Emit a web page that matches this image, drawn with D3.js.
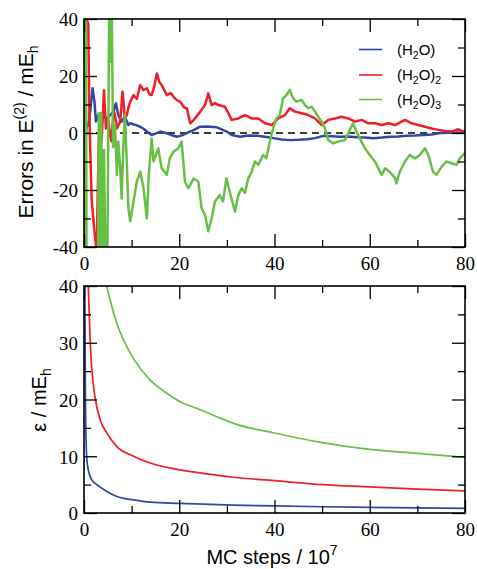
<!DOCTYPE html>
<html><head><meta charset="utf-8">
<script src="https://cdn.jsdelivr.net/npm/d3@7"></script>
<style>body{margin:0;background:#fff} .tick text{font-family:"Liberation Serif","Times New Roman",Times,serif !important;}</style>
</head><body>
<svg id="chart" width="477" height="569"></svg>
<script>
// ---------- data ----------
const xTicks = [0, 20, 40, 60, 80];
const errTicks = [-40, -20, 0, 20, 40];
const epsTicks = [0, 10, 20, 30, 40];
const seriesNames = ["(H2O)", "(H2O)2", "(H2O)3"];

const errH2O = [[0.2,-6],[0.5,2],[0.9,2.8],[1.3,7.5],[1.8,15.7],[2.2,11],[2.5,4],[3.0,6.3],[3.5,2.8],[4.1,6.3],[4.8,5],[5.5,6.3],[6.2,7.5],[6.7,10.4],[7.2,6.3],[7.9,4],[8.6,5.7],[9.3,2.8],[9.7,3.4],[10.5,3],[11.8,2.2],[12.5,1.5],[13.2,0.5],[14.2,-0.7],[15,-0.2],[16,0.5],[16.7,0.2],[17.4,-0.1],[18.5,-0.8],[19.5,-1.3],[20.2,-1],[20.9,-0.6],[22,0.3],[23,1],[24.4,2.2],[25.8,2.3],[26.5,2.2],[27.9,2],[29,1.2],[30,0.5],[31,-0.7],[32.8,-1.3],[34.5,-0.9],[36.3,-1],[38,-1.3],[39.8,-1.8],[41.5,-2.3],[43.3,-2.5],[45,-2.4],[46.8,-2.2],[48.5,-1.8],[50.3,-1.0],[52,-1.1],[53.8,-1.3],[55.5,-1.2],[57.3,-1.5],[59,-1.6],[60.8,-1.8],[62.5,-1.6],[64.3,-1.3],[66,-1.2],[67.8,-1],[69.5,-0.9],[71.3,-0.7],[73,-0.5],[74.8,0],[76.5,0.1],[78.3,0.2],[80,0.1]];

const errH2O2 = [[0.3,50],[0.6,40],[0.9,38],[1.1,10],[1.3,-5],[1.6,-23],[2.1,-33],[2.5,-39],[2.7,-45],[2.8,-29],[3.1,-3],[3.4,3],[3.7,-3],[4.2,15],[4.6,1.6],[5.1,5],[5.5,-1],[5.8,-3],[6.2,8],[6.5,6.3],[6.9,1.6],[7.6,4],[8.1,14.5],[8.6,5],[9.0,6.3],[9.3,8.7],[9.7,11],[10.4,13.3],[11.1,12],[11.8,16.8],[12.5,15],[13.2,15.7],[13.8,13.5],[14.2,13.3],[14.7,16],[15.3,20.9],[15.8,18],[16.3,16.8],[17.4,13.3],[18.2,14],[18.8,12.7],[19.5,11.5],[20.2,11],[21,9],[21.6,8.7],[22.3,3.4],[23,4.5],[23.3,5.1],[24.4,7.5],[25.4,9.8],[26.1,13.9],[26.8,9.8],[27.5,10.5],[28.2,9.8],[29.6,9.2],[30.3,7],[31,4.6],[32.4,5.1],[33.8,6.3],[35.2,5.1],[36.6,5.1],[38,3.4],[39.4,2.8],[40.8,5.1],[42.2,6.3],[43.2,8.7],[44.3,7.5],[45.7,6.9],[47.1,6.3],[48.5,5.1],[49.9,2.8],[51.3,4.6],[52.7,5.1],[54.1,5.7],[55.5,5.1],[56.9,4],[58.3,4.6],[59.7,3.4],[61.1,3.4],[62.5,2.8],[63.9,3.4],[65.3,2.8],[66.7,4],[67.4,4.6],[68.8,3.4],[70.2,2.8],[71.6,2.2],[73,1.6],[74.4,1.1],[75.8,0.7],[77.2,0.5],[78.6,1.3],[79.6,0.5],[80,0.6]];

const errH2O3 = [[0.1,50],[0.25,-50],[0.4,50],[0.55,-50],[0.8,-60],[2.9,-60],[3.1,7],[3.3,-45],[3.6,7],[3.9,-45],[4.2,-6],[4.5,-45],[4.9,-45],[5.3,45],[5.6,25],[5.8,50],[6.1,-5],[6.5,3],[6.9,-14.7],[7.2,-3],[7.6,-12],[7.9,-23],[8.3,-3],[8.6,6.3],[9.0,-11],[9.3,-26],[9.7,-31],[10.4,-24],[11.1,-17],[11.8,-13.6],[12.5,-19.4],[13.2,-30],[13.6,-15],[14.2,-2],[14.6,-10],[15.6,-5.4],[16.3,-12.4],[17.4,-14.7],[18,-8.9],[18.8,-6.5],[19.8,-5.4],[20.5,-3],[21.2,-17],[21.9,-19.4],[23,-16],[24,-17],[24.7,-26.4],[25.4,-28.8],[26.1,-34.5],[26.8,-30],[27.5,-24],[28.5,-21.8],[29.2,-24],[29.9,-15.9],[30.6,-20.6],[31.7,-27.6],[32.4,-21.8],[33.1,-19.4],[33.8,-21],[34.5,-15.9],[35.2,-13.6],[35.9,-10],[36.6,-11.2],[37.6,-7.7],[38.3,-8.9],[39,-3],[39.7,1.6],[40.4,5.1],[41.1,6.3],[41.8,12.2],[42.5,13.3],[43.2,15.1],[43.9,12.2],[44.6,11],[45.7,11.6],[46.4,9.8],[47.1,8.7],[47.8,9.2],[48.5,7.5],[49.2,5.7],[49.9,4],[50.6,1.6],[51.3,-2.5],[52.3,-3.6],[53.4,-3],[54.8,-2.5],[55.8,1],[56.5,3.4],[57.2,0.5],[57.9,-1.9],[59,-5.4],[60,-7.7],[61.1,-10],[61.8,-12.4],[62.5,-14.7],[63.2,-12.4],[64.2,-13.6],[65.3,-15.9],[65.6,-17.7],[66.3,-13.6],[67.4,-10],[68.4,-7.7],[69.5,-8.9],[70.5,-7.7],[71.6,-5.4],[72.3,-7.7],[73.3,-13.6],[74,-14.7],[75.1,-11.8],[76.1,-10],[77.2,-10.6],[78.2,-11.2],[78.9,-8.9],[79.6,-7.7],[80,-7]];

const epsH2O = [[0.15,45],[0.3,20],[0.56,10],[0.9,7.6],[1.6,5.9],[2.7,5],[4.8,3.8],[6.9,2.9],[10.4,2.3],[13.9,1.9],[20.2,1.7],[31.4,1.4],[40,1.25],[50,1.1],[60,1.0],[70,0.9],[80,0.8]];
const epsH2O2 = [[0.7,45],[0.9,40],[1.26,31],[1.6,25.8],[2.3,20.5],[3.4,16.4],[4.8,14.1],[6.9,11.7],[10.4,10],[13.9,8.8],[20.2,7.6],[25.8,6.9],[31.4,6.3],[40,5.7],[50,5.0],[60,4.6],[70,4.2],[80,3.9]];
const epsH2O3 = [[3.5,50],[4.8,40],[5.5,37.5],[6.9,33.4],[8.3,30.5],[10.4,27.2],[13.9,23.4],[17.4,21.1],[20.2,19.6],[24.4,18.2],[28.6,16.7],[31.4,15.8],[40,14.1],[50,12.4],[60,11.2],[70,10.5],[80,9.8]];

const colors = ["#2f48a3", "#ee1f26", "#68bf45"];

// ---------- layout ----------
const svg = d3.select("#chart");
const X0 = 84, X1 = 465;
const top1 = 19, bot1 = 247, top2 = 286, bot2 = 513;
const serif = "'Liberation Serif','Times New Roman',Times,serif";
const sans = "'Liberation Sans',Arial,sans-serif";

const x = d3.scaleLinear().domain([0, 80]).range([X0, X1]);
const yErr = d3.scaleLinear().domain([-40, 40]).range([bot1, top1]);
const yEps = d3.scaleLinear().domain([0, 40]).range([bot2, top2]);

const defs = svg.append("defs");
defs.append("clipPath").attr("id", "c1").append("rect").attr("x", X0).attr("y", top1).attr("width", X1 - X0).attr("height", bot1 - top1);
defs.append("clipPath").attr("id", "c2").append("rect").attr("x", X0).attr("y", top2).attr("width", X1 - X0).attr("height", bot2 - top2);

function panel(y, yMajor, yMinor, yb, yt) {
  const g = svg.append("g");
  const major = 13, minor = 7;
  const style = a => {
    a.attr("font-family", serif);
    a.select(".domain").remove();
    a.selectAll(".tick line").attr("stroke", "#000").attr("stroke-width", 1.3);
  };
  const lab = a => a.selectAll("text").style("font-family", serif).attr("font-size", 19).attr("fill", "#000");
  g.append("g").attr("transform", `translate(0,${yb})`)
    .call(d3.axisBottom(x).tickValues(xTicks).tickSize(-major).tickPadding(10).tickFormat(d => String(d)))
    .call(style).call(lab);
  g.append("g").attr("transform", `translate(0,${yb})`)
    .call(d3.axisBottom(x).tickValues([10, 30, 50, 70]).tickSize(-minor).tickFormat(""))
    .call(style);
  g.append("g").attr("transform", `translate(0,${yt})`)
    .call(d3.axisTop(x).tickValues(xTicks).tickSize(-major).tickFormat(""))
    .call(style);
  g.append("g").attr("transform", `translate(0,${yt})`)
    .call(d3.axisTop(x).tickValues([10, 30, 50, 70]).tickSize(-minor).tickFormat(""))
    .call(style);
  g.append("g").attr("transform", `translate(${X0},0)`)
    .call(d3.axisLeft(y).tickValues(yMajor).tickSize(-major).tickPadding(6).tickFormat(d => String(d)))
    .call(style).call(lab).call(a => a.selectAll("text").attr("dy", "0.36em"));
  g.append("g").attr("transform", `translate(${X0},0)`)
    .call(d3.axisLeft(y).tickValues(yMinor).tickSize(-minor).tickFormat(""))
    .call(style);
  g.append("g").attr("transform", `translate(${X1},0)`)
    .call(d3.axisRight(y).tickValues(yMajor).tickSize(-major).tickFormat(""))
    .call(style);
  g.append("g").attr("transform", `translate(${X1},0)`)
    .call(d3.axisRight(y).tickValues(yMinor).tickSize(-minor).tickFormat(""))
    .call(style);
  g.append("rect").attr("x", X0).attr("y", yt).attr("width", X1 - X0).attr("height", yb - yt)
    .attr("fill", "none").attr("stroke", "#000").attr("stroke-width", 1.6);
}

// ---------- top panel ----------
const lineErr = d3.line().x(d => x(d[0])).y(d => yErr(d[1]));
const gTop = svg.append("g").attr("clip-path", "url(#c1)");
gTop.append("line").attr("x1", X0).attr("x2", X1).attr("y1", yErr(0)).attr("y2", yErr(0))
  .attr("stroke", "#000").attr("stroke-width", 1.5).attr("stroke-dasharray", "7,5");
[errH2O, errH2O2, errH2O3].forEach((s, i) => {
  gTop.append("path").datum(s).attr("d", lineErr).attr("fill", "none")
    .attr("stroke", colors[i]).attr("stroke-width", 2.5).attr("stroke-linejoin", "round");
});
panel(yErr, errTicks, [-30, -10, 10, 30], bot1, top1);

// ---------- bottom panel ----------
const lineEps = d3.line().curve(d3.curveMonotoneX).x(d => x(d[0])).y(d => yEps(d[1]));
const gBot = svg.append("g").attr("clip-path", "url(#c2)");
[epsH2O, epsH2O2, epsH2O3].forEach((s, i) => {
  gBot.append("path").datum(s).attr("d", lineEps).attr("fill", "none")
    .attr("stroke", colors[i]).attr("stroke-width", 1.7);
});
panel(yEps, epsTicks, [5, 15, 25, 35], bot2, top2);

// ---------- legend ----------
const legY = [49.5, 75, 99.5];
const leg = svg.append("g");
seriesNames.forEach((name, i) => {
  leg.append("line").attr("x1", 359).attr("x2", 382).attr("y1", legY[i]).attr("y2", legY[i])
    .attr("stroke", colors[i]).attr("stroke-width", 1.6);
  const t = leg.append("text").attr("x", 397).attr("y", legY[i] + 5)
    .attr("font-family", sans).attr("font-size", 15).attr("fill", "#000");
  t.append("tspan").text("(H");
  t.append("tspan").attr("font-size", 10.5).attr("dy", 4).text("2");
  t.append("tspan").attr("dy", -4).text("O)");
  const n = name.slice(5);
  if (n) t.append("tspan").attr("font-size", 10.5).attr("dy", 4).text(n);
});

// ---------- axis titles ----------
const t1 = svg.append("text").attr("transform", "translate(33,132) rotate(-90)")
  .attr("text-anchor", "middle").attr("font-family", sans).attr("font-size", 21).attr("fill", "#000");
t1.append("tspan").text("Errors in E");
t1.append("tspan").attr("font-size", 14).attr("dy", -9).text("(2)");
t1.append("tspan").attr("dy", 9).text(" / mE");
t1.append("tspan").attr("font-size", 14).attr("dy", 5).text("h");

const t2 = svg.append("text").attr("transform", "translate(46,400) rotate(-90)")
  .attr("text-anchor", "middle").attr("font-family", sans).attr("font-size", 20).attr("fill", "#000");
t2.append("tspan").text("ε / mE");
t2.append("tspan").attr("font-size", 14).attr("dy", 5).text("h");

const t3 = svg.append("text").attr("x", 272).attr("y", 564)
  .attr("text-anchor", "middle").attr("font-family", sans).attr("font-size", 20).attr("fill", "#000");
t3.append("tspan").text("MC steps / 10");
t3.append("tspan").attr("font-size", 14).attr("dy", -9).text("7");
</script>
</body></html>
